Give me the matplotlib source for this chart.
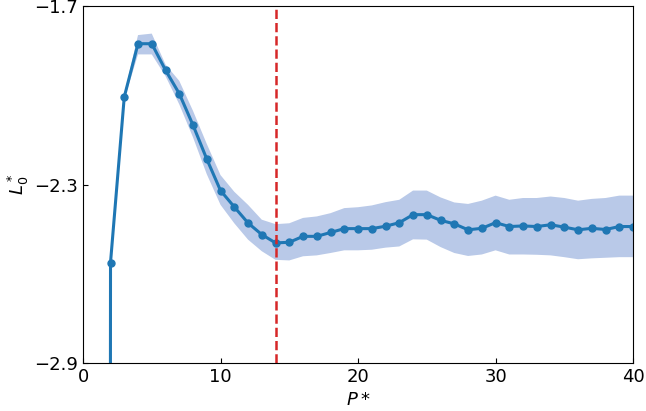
import matplotlib
matplotlib.use("Agg")
import matplotlib.pyplot as plt

# P* values and mean L0* (x=1 sits far below the axis range)
p_star = list(range(1, 41))
l0_mean = [-60.0, -2.562, -2.005, -1.826, -1.826, -1.915, -1.994, -2.100, -2.214, -2.320,
           -2.375, -2.429, -2.468, -2.496, -2.494, -2.474, -2.474, -2.461, -2.448, -2.448,
           -2.448, -2.440, -2.428, -2.401, -2.401, -2.420, -2.432, -2.452, -2.447, -2.428,
           -2.441, -2.439, -2.441, -2.435, -2.443, -2.452, -2.447, -2.451, -2.441, -2.441]
l0_upper = [-60.0, -2.558, -1.996, -1.797, -1.792, -1.896, -1.951, -2.052, -2.163, -2.268,
            -2.324, -2.368, -2.418, -2.433, -2.430, -2.412, -2.407, -2.396, -2.379, -2.376,
            -2.370, -2.359, -2.351, -2.320, -2.320, -2.343, -2.360, -2.365, -2.354, -2.337,
            -2.351, -2.345, -2.345, -2.340, -2.345, -2.354, -2.348, -2.345, -2.337, -2.337]
l0_lower = [-60.0, -2.566, -2.014, -1.862, -1.862, -1.935, -2.030, -2.141, -2.265, -2.368,
            -2.430, -2.485, -2.524, -2.553, -2.555, -2.541, -2.538, -2.530, -2.521, -2.521,
            -2.519, -2.512, -2.508, -2.484, -2.485, -2.510, -2.530, -2.540, -2.535, -2.521,
            -2.535, -2.535, -2.536, -2.538, -2.544, -2.551, -2.548, -2.546, -2.544, -2.544]
p_opt = 14

fig = plt.figure(figsize=(6.46, 4.11), dpi=100)
ax = fig.add_axes([0.1285, 0.1168, 0.8515, 0.868])

ax.fill_between(p_star, l0_lower, l0_upper, color="#b9c9e8", linewidth=0)
ax.plot(p_star, l0_mean, color="#1f77b4", linewidth=2.2, marker="o", markersize=5)
ax.axvline(p_opt, color="#d62728", linestyle="--", linewidth=1.8)

ax.set_xlim(0, 40)
ax.set_ylim(-2.9, -1.7)
ax.set_xticks([0, 10, 20, 30, 40])
ax.set_yticks([-2.9, -2.3, -1.7])
ax.tick_params(direction="in", labelsize=13)
ax.set_xlabel("$P*$", fontsize=13, labelpad=4)
ax.set_ylabel("$L_0^*$", fontsize=13, labelpad=2)

fig.savefig("out.png", dpi=100)
plt.close(fig)
